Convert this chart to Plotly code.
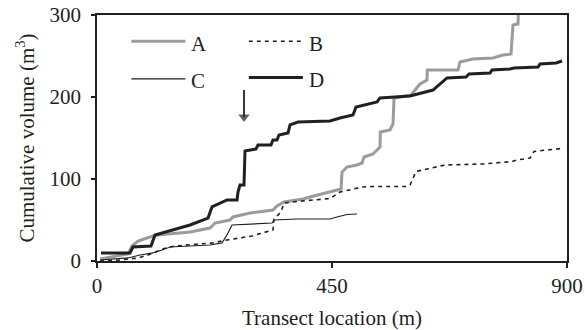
import plotly.graph_objects as go

# Transect location (m) and cumulative volume (m^3) for each series
a_x = [5.7, 34.5, 59.4, 67, 78.5, 101.5, 114.9, 178.1, 216.4, 226, 254.7, 260.4, 293, 337,
       344.7, 358.1, 394.5, 407.9, 440.5, 467.3, 469.2, 478.7, 497.9, 507.5, 511.3, 528.5,
       536.2, 541.9, 542.5, 561.1, 566.8, 568.8, 601.3, 618.5, 631.9, 632.5, 691.3, 695.1,
       720, 758.3, 777.5, 792.8, 796.6, 806.2, 806.8]
a_y = [2.4, 6.1, 8.5, 18.3, 24.4, 29.3, 31.7, 35.4, 40.2, 46.3, 50, 53.7, 58.5, 62.2,
       67.1, 72, 75.6, 78, 82.9, 87.8, 108.5, 114.6, 117.1, 119.5, 126.8, 130.5,
       135.4, 139, 157.3, 159.8, 167.1, 198.8, 202.4, 215.9, 220.7, 232.9, 232.9, 242.7,
       246.3, 247.6, 251.2, 252.4, 287.8, 289, 302]

b_x = [5.7, 44, 78.5, 97.7, 116.8, 132.1, 149.4, 220.2, 248.9, 296.8, 337, 338.9, 352.4,
       358.1, 383, 421.3, 446.2, 465.3, 497.9, 507.5, 528.5, 593.6, 599.4, 603.2, 610.9,
       631.9, 666.4, 739.2, 781.3, 794.7, 804.3, 829.2, 836.8, 852.2, 892.4]
b_y = [0, 1.2, 3.7, 7.3, 12.2, 15.9, 18.3, 22, 25.6, 30.5, 37.8, 51.2, 59.8,
       70.7, 72.6, 75, 76.2, 84.1, 89, 90.2, 90.9, 90.9, 92.7, 98.8, 109.1,
       112.2, 117.1, 118.3, 120.1, 121.3, 123.2, 125.6, 133.5, 134.8, 137.2]

c_x = [5.7, 59.4, 82.3, 107.2, 124.5, 139.8, 216.4, 239.4, 250.9, 258.5, 335.1, 339,
       383, 446.2, 459.6, 478.7, 497.9]
c_y = [1.2, 3.7, 7.3, 9.8, 13.4, 17.1, 19.5, 22, 34.1, 43.9, 46.3, 50,
       51.2, 51.2, 53.7, 56.7, 57.3]

d_x = [7.7, 63.2, 68.9, 103.4, 111.1, 178.1, 212.6, 220.2, 248.9, 268.1, 270, 273.8,
       281.5, 283.4, 304.5, 308.3, 333.2, 337, 344.7, 348.5, 365.8, 369.6, 384.9, 446.2,
       465.3, 490.2, 496, 536.2, 541.9, 599.4, 643.4, 662.6, 670.2, 706.6, 712.4, 752.6,
       756.4, 790.9, 798.5, 844.5, 848.3, 879, 890.5]
d_y = [9.8, 9.8, 17, 18.3, 31.7, 43.9, 52.4, 65.9, 74.4, 74.4, 84.1, 92.7,
       92.7, 134.1, 136.6, 141.5, 141.5, 147.6, 147.6, 153.7, 156.1, 165.9, 169.5, 170.7,
       174.4, 178, 187.8, 193.9, 198.8, 201.2, 208.5, 219.5, 223.2, 224.4, 228, 229.3,
       232.9, 234.1, 235.4, 236.6, 240.2, 241.5, 243.9]

names = ["A", "B", "C", "D"]
xs = [a_x, b_x, c_x, d_x]
ys = [a_y, b_y, c_y, d_y]

x_ticks = [0, 450, 900]
y_ticks = [0, 100, 200, 300]

# Arrow over the jump in series D: shaft top and the centre of its head
arrow_x = [281.5, 281.5]
arrow_y = [208.5, 175.6]

INK = "#231f20"
styles = {
    "A": dict(color="#9b9b9b", width=3, dash="solid"),
    "B": dict(color=INK, width=1.6, dash="4px,4px"),
    "C": dict(color=INK, width=1.2, dash="solid"),
    "D": dict(color=INK, width=3, dash="solid"),
}

fig = go.Figure()
for name, x, y in zip(names, xs, ys):
    fig.add_trace(go.Scatter(x=x, y=y, mode="lines", name=name,
                             line=styles[name], showlegend=False))

# Arrow: thin shaft with a filled downward triangle as its head
fig.add_trace(go.Scatter(x=arrow_x, y=arrow_y, mode="lines+markers", showlegend=False,
                         line=dict(color=INK, width=1.8),
                         marker=dict(symbol="triangle-down", size=[0, 10], color=INK,
                                     line=dict(width=0)),
                         hoverinfo="skip"))

# Key drawn inside the plot area: two columns of line samples with labels
key_pos = {"A": (0.073, 0.893), "B": (0.323, 0.893), "C": (0.073, 0.74), "D": (0.323, 0.746)}
key_len = 0.115
for name in names:
    x0, yk = key_pos[name]
    st = styles[name]
    fig.add_shape(type="line", xref="paper", yref="paper", x0=x0, x1=x0 + key_len,
                  y0=yk, y1=yk, line=dict(color=st["color"], width=st["width"], dash=st["dash"]))
    fig.add_annotation(xref="paper", yref="paper", x=x0 + key_len + 0.008, y=yk - 0.01,
                       text=name, showarrow=False, xanchor="left", yanchor="middle",
                       font=dict(family="Liberation Serif", size=21, color=INK))

axis_font = dict(family="Liberation Serif", size=21, color=INK)
fig.update_xaxes(range=[0, 900], tickvals=x_ticks, ticks="outside", ticklen=5, tickwidth=1.5,
                 tickcolor=INK, showline=True, linewidth=2, linecolor=INK, mirror=True,
                 showgrid=False, zeroline=False, tickfont=axis_font, automargin=False,
                 title=dict(text="Transect location (m)", font=axis_font, standoff=14))
fig.update_yaxes(range=[0, 300], tickvals=y_ticks, ticks="outside", ticklen=4, tickwidth=1.5,
                 tickcolor=INK, showline=True, linewidth=1.8, linecolor=INK, mirror=True,
                 showgrid=False, zeroline=False, tickfont=axis_font, ticklabelstandoff=6,
                 automargin=False,
                 title=dict(text="Cumulative volume (m<sup>3</sup>)", font=axis_font, standoff=9))

fig.update_layout(width=585, height=330, margin=dict(l=97, r=18, t=15, b=69),
                  paper_bgcolor="white", plot_bgcolor="white", showlegend=False)

fig.write_html("out.html")
